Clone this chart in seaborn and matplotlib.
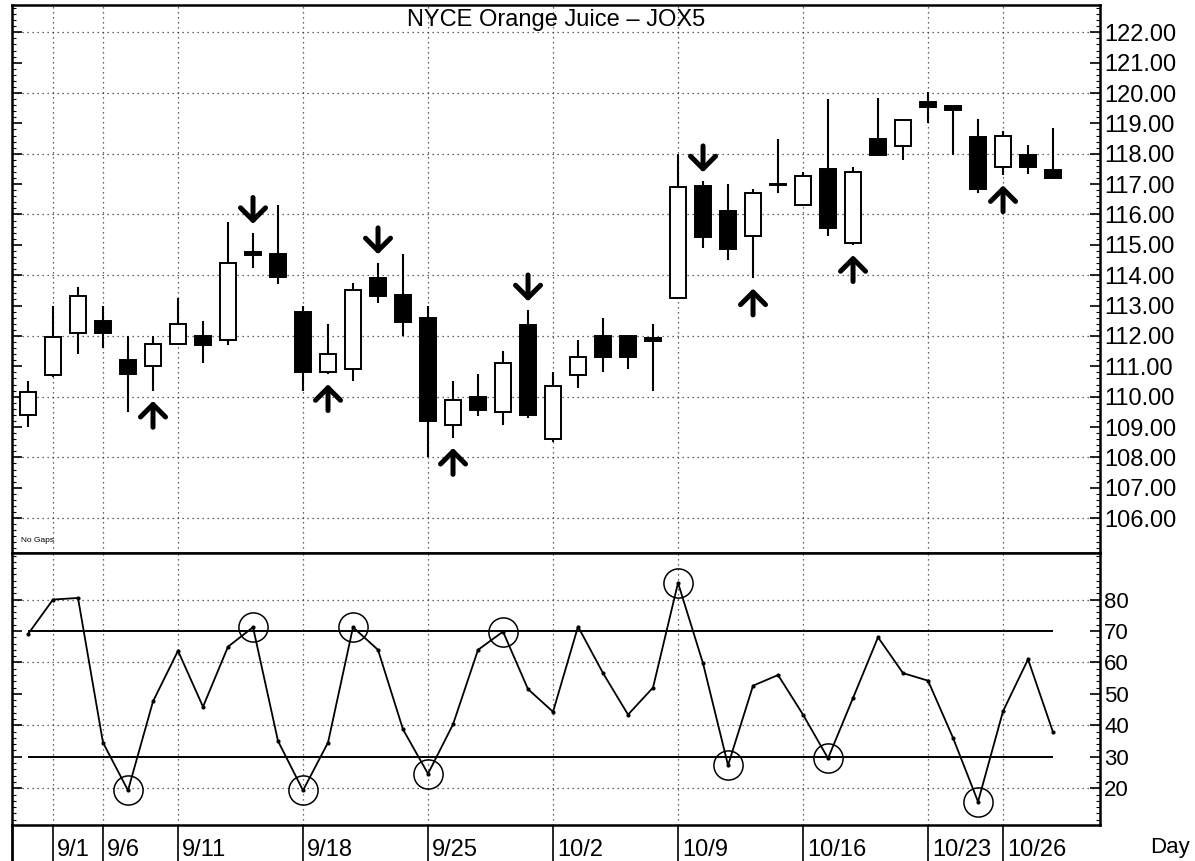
import matplotlib
matplotlib.use("Agg")
import matplotlib.pyplot as plt
import matplotlib.transforms as mtransforms
from matplotlib.ticker import MultipleLocator, FixedLocator
import numpy as np
import seaborn as sns

# daily OHLC, 8/31 .. 10/30 (one entry per trading day)
opens = [109.4, 110.7, 112.1, 112.5, 111.2, 111.0, 111.75, 112.0, 111.85, 114.78,
         114.7, 112.8, 110.8, 110.9, 113.9, 113.35, 112.6, 109.05, 110.0, 109.5,
         112.35, 108.6, 110.7, 112.0, 112.0, 111.92, 113.25, 116.95, 116.1, 115.3,
         117.02, 116.3, 117.5, 115.05, 118.5, 118.25, 119.72, 119.56, 118.55, 117.55,
         117.95, 117.45]
highs = [110.5, 113.0, 113.6, 113.0, 112.0, 112.0, 113.25, 112.5, 115.75, 115.4,
         116.3, 113.0, 112.4, 113.75, 114.4, 114.7, 113.0, 110.5, 110.75, 111.5,
         112.85, 110.8, 111.85, 112.6, 112.0, 112.4, 118.0, 117.1, 117.0, 116.85,
         118.5, 117.4, 119.8, 117.55, 119.85, 119.15, 120.05, 119.56, 119.15, 118.75,
         118.3, 118.85]
lows = [109.0, 110.65, 111.4, 111.6, 109.5, 110.2, 111.7, 111.1, 111.7, 114.25,
        113.7, 110.2, 110.75, 110.5, 113.1, 112.0, 108.0, 108.65, 109.35, 109.05,
        109.3, 108.5, 110.3, 110.8, 110.9, 110.2, 113.2, 114.9, 114.5, 113.9,
        116.7, 116.3, 115.3, 115.0, 117.95, 117.8, 119.0, 117.95, 116.7, 117.3,
        117.35, 117.2]
closes = [110.15, 111.95, 113.3, 112.1, 110.75, 111.75, 112.4, 111.7, 114.4, 114.68,
          113.95, 110.8, 111.4, 113.5, 113.3, 112.45, 109.2, 109.9, 109.55, 111.1,
          109.4, 110.35, 111.3, 111.3, 111.3, 111.84, 116.9, 115.25, 114.85, 116.7,
          116.96, 117.27, 115.55, 117.4, 117.95, 119.1, 119.55, 119.44, 116.85, 118.6,
          117.55, 117.2]

# oscillator (lower panel)
osc = [69, 80, 80.5, 34.5, 19.3, 47.6, 63.7, 45.9, 65, 71.2,
       35, 19.3, 34.5, 71.2, 64, 38.7, 24.6, 40.3, 64, 69.8,
       51.5, 44.3, 71.4, 56.6, 43.4, 52, 85.3, 59.7, 27.3, 52.6,
       56, 43.4, 29.5, 48.7, 68, 56.6, 54.2, 36, 15.7, 44.5,
       61, 37.8]
osc_bands = [70, 30]
osc_circles = [4, 9, 11, 13, 16, 19, 26, 28, 32, 38]

up_arrows = [5, 12, 17, 29, 33, 39]
down_arrows = [9, 14, 20, 27]

price_ticks = np.arange(106, 123, 1)
date_labels = ["9/1", "9/6", "9/11", "9/18", "9/25", "10/2", "10/9", "10/16", "10/23", "10/26"]
date_pos = [1, 3, 6, 11, 16, 21, 26, 31, 36, 39]

sns.set_theme(style="white")
plt.rcParams["font.family"] = ["Liberation Sans", "DejaVu Sans"]

idx = np.arange(len(opens))
o = np.array(opens)
c = np.array(closes)
up = c >= o

fig = plt.figure(figsize=(11.95, 8.61), dpi=100)
ax = fig.add_axes([0.01004, 0.35772, 0.9105, 0.63647])
ax2 = fig.add_axes([0.01004, 0.04181, 0.9105, 0.31591], sharex=ax)

dots = (0, (1, 3))
grid_col = "#333333"

# ---- price panel ----
for lvl in np.arange(106, 123, 2):
    ax.axhline(lvl, color=grid_col, lw=0.9, ls=dots, zorder=0)
for p in date_pos:
    ax.axvline(p, color=grid_col, lw=0.9, ls=dots, zorder=0)
    ax2.axvline(p, color=grid_col, lw=0.9, ls=dots, zorder=0)

ax.vlines(idx, lows, highs, color="black", lw=1.5, zorder=2)
ax.bar(idx, np.abs(c - o), bottom=np.minimum(o, c), width=0.66,
       color=np.where(up, "white", "black"), edgecolor="black", linewidth=1.4, zorder=3)

arrow_kw = dict(arrowstyle="->,head_length=0.45,head_width=0.45", lw=3.6,
                color="black", mutation_scale=20)
for i in up_arrows:
    tip = lows[i] - 0.25
    ax.annotate("", xy=(i, tip), xytext=(i, tip - 1.05), arrowprops=arrow_kw, zorder=4)
for i in down_arrows:
    tip = highs[i] + 0.2
    ax.annotate("", xy=(i, tip), xytext=(i, tip + 1.05), arrowprops=arrow_kw, zorder=4)

ax.set_xlim(-0.64, 42.88)
ax.set_ylim(104.85, 122.9)
ax.yaxis.set_major_locator(FixedLocator(price_ticks))
ax.yaxis.set_minor_locator(MultipleLocator(0.2))
ax.yaxis.set_major_formatter(matplotlib.ticker.FormatStrFormatter("%.2f"))
ax.tick_params(axis="y", which="both", left=True, right=True, labelleft=False,
               labelright=True, direction="in", colors="black", labelsize=17, pad=3)
ax.tick_params(axis="y", which="major", length=7, width=1.2)
ax.tick_params(axis="y", which="minor", length=3, width=0.8)
ax.tick_params(axis="x", bottom=False, labelbottom=False)
ax.text(0.5, 0.972, "NYCE Orange Juice \u2013 JOX5", transform=ax.transAxes,
        ha="center", va="center", fontsize=17, color="black")
ax.text(0.008, 0.022, "No Gaps", transform=ax.transAxes, ha="left", va="center",
        fontsize=6, color="black")

# ---- oscillator panel ----
for lvl in [20, 40, 60, 80]:
    ax2.axhline(lvl, color=grid_col, lw=0.9, ls=dots, zorder=0)
ax2.hlines(osc_bands, idx[0], idx[-1], color="black", lw=1.4, zorder=1)
sns.lineplot(x=idx, y=osc, ax=ax2, color="black", lw=1.3, marker="o", ms=3,
             markeredgewidth=0, zorder=2)
ax2.plot(osc_circles, [osc[i] for i in osc_circles], ls="none", marker="o", ms=21,
         mfc="none", mec="black", mew=1.1, zorder=3)

ax2.set_ylim(8.3, 94.8)
ax2.yaxis.set_major_locator(FixedLocator([20, 30, 40, 50, 60, 70, 80]))
ax2.yaxis.set_minor_locator(MultipleLocator(2))
ax2.tick_params(axis="y", which="both", left=True, right=True, labelleft=False,
                labelright=True, direction="in", colors="black", labelsize=16, pad=3)
ax2.tick_params(axis="y", which="major", length=7, width=1.2)
ax2.tick_params(axis="y", which="minor", length=3, width=0.8)

ax2.set_xticks(date_pos)
ax2.set_xticklabels(date_labels)
ax2.tick_params(axis="x", bottom=True, direction="out", length=26, width=1.2,
                pad=-16, labelsize=17, colors="black")
shift = mtransforms.ScaledTranslation(3 / 72, 0, fig.dpi_scale_trans)
for lab in ax2.get_xticklabels():
    lab.set_horizontalalignment("left")
    lab.set_transform(lab.get_transform() + shift)
ax2.set_xlabel("")
ax2.set_ylabel("")

# left border continues through the date strip
ax2.plot([0, 0], [0, -0.135], transform=ax2.transAxes, color="black", lw=2, clip_on=False)
fig.text(1150 / 1195, 1 - 847 / 861, "Day", ha="left", va="center", fontsize=16, color="black")

for a in (ax, ax2):
    for s in a.spines.values():
        s.set_visible(True)
        s.set_color("black")
        s.set_linewidth(1.8)

fig.savefig("out.png", dpi=100)
